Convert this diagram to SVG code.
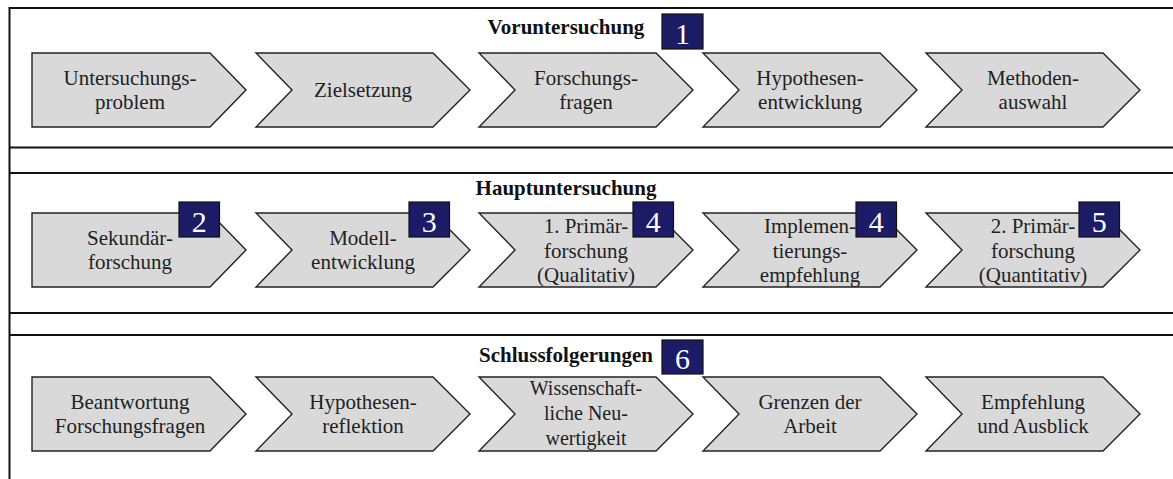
<svg xmlns="http://www.w3.org/2000/svg" width="1173" height="479" viewBox="0 0 1173 479">
<style>
.frame{stroke:#111;stroke-width:2;fill:none}
.chev{fill:#d9d9d9;stroke:#222;stroke-width:1.4;stroke-linejoin:miter}
text{font-family:'Liberation Serif','Times New Roman',Times,'DejaVu Serif',serif}
.lbl{font-size:21px;fill:#222;text-anchor:middle}
.ttl{font-size:21px;font-weight:bold;fill:#111;text-anchor:middle}
.badge{fill:#1b1b66;stroke:#111;stroke-width:1.2}
.num{font-size:30px;fill:#fff;text-anchor:middle}
</style>
<rect width="1173" height="479" fill="#fff"/>
<g id="frame">
<line class="frame" x1="9" y1="8" x2="1173" y2="8"/>
<line class="frame" x1="9" y1="147.5" x2="1173" y2="147.5"/>
<line class="frame" x1="9" y1="173" x2="1173" y2="173"/>
<line class="frame" x1="9" y1="313" x2="1173" y2="313"/>
<line class="frame" x1="9" y1="335" x2="1173" y2="335"/>
<line class="frame" x1="9.5" y1="7" x2="9.5" y2="479"/>
</g>
<g font-family="Liberation Serif, Times New Roman, serif">
<!-- Section 1 -->
<g id="title-voruntersuchung">
<text class="ttl" x="566" y="34">Voruntersuchung</text>
<rect class="badge" x="662" y="14" width="41" height="35"/>
<text class="num" x="682.5" y="44">1</text>
</g>
<g id="n-untersuchungsproblem">
<polygon class="chev" points="32,53 210,53 246,90 210,127 32,127"/>
<text class="lbl" x="130" y="85">Untersuchungs-</text>
<text class="lbl" x="130" y="109">problem</text>
</g>
<g id="n-zielsetzung">
<polygon class="chev" points="256,53 433,53 470,90 433,127 256,127 292,90"/>
<text class="lbl" x="363" y="97">Zielsetzung</text>
</g>
<g id="n-forschungsfragen">
<polygon class="chev" points="479,53 656,53 693,90 656,127 479,127 515,90"/>
<text class="lbl" x="586" y="85">Forschungs-</text>
<text class="lbl" x="586" y="109">fragen</text>
</g>
<g id="n-hypothesenentwicklung">
<polygon class="chev" points="703,53 880,53 917,90 880,127 703,127 739,90"/>
<text class="lbl" x="810" y="85">Hypothesen-</text>
<text class="lbl" x="810" y="109">entwicklung</text>
</g>
<g id="n-methodenauswahl">
<polygon class="chev" points="926,53 1103,53 1140,90 1103,127 926,127 962,90"/>
<text class="lbl" x="1033" y="85">Methoden-</text>
<text class="lbl" x="1033" y="109">auswahl</text>
</g>

<!-- Section 2 -->
<g id="title-hauptuntersuchung">
<text class="ttl" x="566" y="195">Hauptuntersuchung</text>
</g>
<g id="n-sekundaerforschung">
<polygon class="chev" points="32,213 210,213 246,250 210,287 32,287"/>
<text class="lbl" x="130" y="245">Sekundär-</text>
<text class="lbl" x="130" y="269">forschung</text>
<rect class="badge" x="179" y="202" width="40.5" height="35"/>
<text class="num" x="199.2" y="232">2</text>
</g>
<g id="n-modellentwicklung">
<polygon class="chev" points="256,213 433,213 470,250 433,287 256,287 292,250"/>
<text class="lbl" x="363" y="245">Modell-</text>
<text class="lbl" x="363" y="269">entwicklung</text>
<rect class="badge" x="409" y="202" width="40.5" height="35"/>
<text class="num" x="429.2" y="232">3</text>
</g>
<g id="n-primaerforschung1">
<polygon class="chev" points="479,213 656,213 693,250 656,287 479,287 515,250"/>
<text class="lbl" x="586" y="233">1. Primär-</text>
<text class="lbl" x="586" y="257.5">forschung</text>
<text class="lbl" x="586" y="282">(Qualitativ)</text>
<rect class="badge" x="633" y="202" width="40.5" height="35"/>
<text class="num" x="653.2" y="232">4</text>
</g>
<g id="n-implementierungsempfehlung">
<polygon class="chev" points="703,213 880,213 917,250 880,287 703,287 739,250"/>
<text class="lbl" x="810" y="233">Implemen-</text>
<text class="lbl" x="810" y="257.5">tierungs-</text>
<text class="lbl" x="810" y="282">empfehlung</text>
<rect class="badge" x="856" y="202" width="40.5" height="35"/>
<text class="num" x="876.2" y="232">4</text>
</g>
<g id="n-primaerforschung2">
<polygon class="chev" points="926,213 1103,213 1140,250 1103,287 926,287 962,250"/>
<text class="lbl" x="1033" y="233">2. Primär-</text>
<text class="lbl" x="1033" y="257.5">forschung</text>
<text class="lbl" x="1033" y="282">(Quantitativ)</text>
<rect class="badge" x="1079" y="202" width="40.5" height="35"/>
<text class="num" x="1099.2" y="232">5</text>
</g>

<!-- Section 3 -->
<g id="title-schlussfolgerungen">
<text class="ttl" x="566" y="362">Schlussfolgerungen</text>
<rect class="badge" x="662" y="340" width="41" height="34"/>
<text class="num" x="682.5" y="369">6</text>
</g>
<g id="n-beantwortung">
<polygon class="chev" points="32,377 210,377 246,414 210,451 32,451"/>
<text class="lbl" x="130" y="409">Beantwortung</text>
<text class="lbl" x="130" y="433">Forschungsfragen</text>
</g>
<g id="n-hypothesenreflektion">
<polygon class="chev" points="256,377 433,377 470,414 433,451 256,451 292,414"/>
<text class="lbl" x="363" y="409">Hypothesen-</text>
<text class="lbl" x="363" y="433">reflektion</text>
</g>
<g id="n-neuwertigkeit">
<polygon class="chev" points="479,377 656,377 693,414 656,451 479,451 515,414"/>
<text class="lbl" x="586" y="395" style="font-size:20px">Wissenschaft-</text>
<text class="lbl" x="586" y="420" style="font-size:20px">liche Neu-</text>
<text class="lbl" x="586" y="445" style="font-size:20px">wertigkeit</text>
</g>
<g id="n-grenzen">
<polygon class="chev" points="703,377 880,377 917,414 880,451 703,451 739,414"/>
<text class="lbl" x="810" y="409">Grenzen der</text>
<text class="lbl" x="810" y="433">Arbeit</text>
</g>
<g id="n-empfehlung">
<polygon class="chev" points="926,377 1103,377 1140,414 1103,451 926,451 962,414"/>
<text class="lbl" x="1033" y="409">Empfehlung</text>
<text class="lbl" x="1033" y="433">und Ausblick</text>
</g>
</g>
</svg>
